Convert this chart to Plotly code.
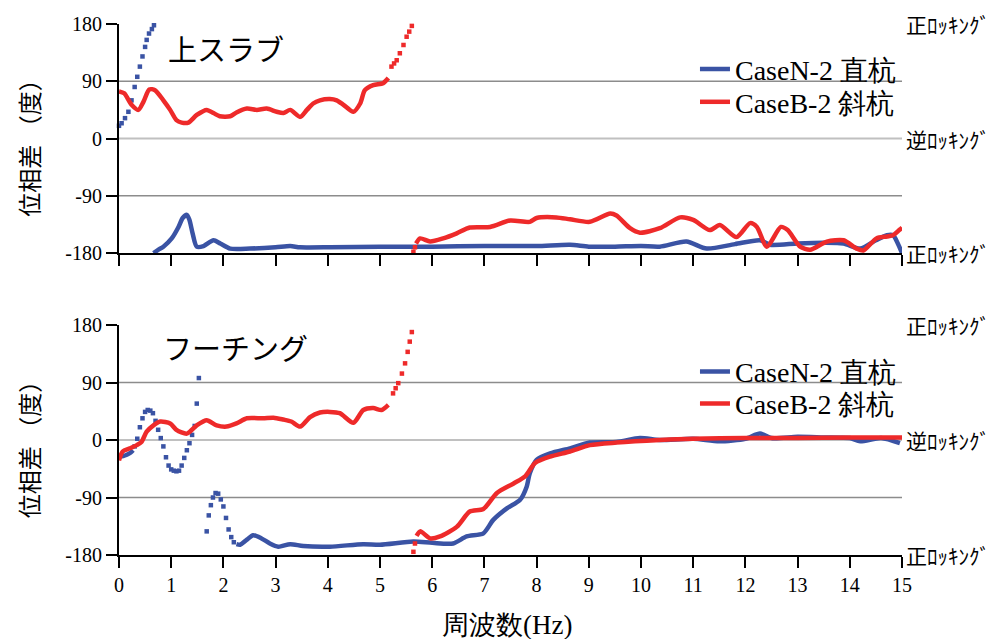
import plotly.graph_objects as go

# ---------------- data ----------------
freq_ticks = list(range(0, 16))
phase_ticks = [-180, -90, 0, 90, 180]
phase_tick_labels = ["-180", "-90", "0", "90", "180"]

# Top panel (上スラブ) - CaseN-2 直杭
top_n_dot_f = [0, 0.05, 0.115, 0.18, 0.24, 0.30, 0.35, 0.40, 0.45, 0.50, 0.53, 0.575, 0.63, 0.67]
top_n_dot_p = [20, 24, 32, 42, 60, 81, 97, 113, 129, 144, 155, 165, 172, 178]
top_n_f = [0.66, 0.75, 0.85, 1.01, 1.14, 1.22, 1.30, 1.35, 1.41, 1.49, 1.62, 1.81, 1.94, 2.13, 2.51, 3.0,
           3.28, 3.47, 4.04, 5.0, 6.0, 7.0, 8.0, 8.64, 9.0, 9.5, 10.0, 10.36, 10.87, 11.26, 11.8, 12.28,
           12.47, 13.0, 13.5, 13.88, 14.2, 14.5, 14.71, 14.83, 14.92, 15.0]
top_n_p = [-180, -175, -170, -157, -139, -125, -120, -128, -149, -170, -169, -160, -165, -173, -173, -171,
           -169, -171, -171, -170, -170, -169, -169, -167, -170, -170, -169, -170, -162, -173, -166, -160,
           -167, -165, -164, -165, -173, -160, -152, -152, -165, -180]

# Top panel - CaseB-2 斜杭
top_b_f1 = [0, 0.1, 0.24, 0.37, 0.47, 0.58, 0.69, 0.85, 0.98, 1.10, 1.20, 1.33, 1.49, 1.68, 1.81, 1.93,
            2.13, 2.25, 2.45, 2.64, 2.83, 3.02, 3.15, 3.28, 3.47, 3.60, 3.72, 3.85, 4.04, 4.17, 4.30,
            4.49, 4.62, 4.71, 4.87, 5.06, 5.16]
top_b_p1 = [74, 71, 53, 45, 58, 77, 76, 60, 45, 29, 25, 25, 37, 45, 40, 35,
            35, 41, 47, 45, 47, 42, 40, 45, 34, 45, 55, 60, 62, 60, 53,
            42, 55, 76, 84, 87, 95]
top_b_dot_f = [5.22, 5.27, 5.32, 5.38, 5.45, 5.51, 5.56, 5.61, 5.64, 5.67]
top_b_dot_p = [113, 118, 123, 134, 147, 160, 168, 177, -178, -171]
top_b_f2 = [5.69, 5.77, 5.96, 6.21, 6.47, 6.72, 7.11, 7.49, 7.87, 8.00, 8.38, 8.64, 9.02, 9.41, 9.53,
            9.79, 9.98, 10.36, 10.75, 11.0, 11.32, 11.51, 11.83, 12.09, 12.22, 12.41, 12.68, 12.81,
            13.05, 13.24, 13.56, 13.88, 14.13, 14.26, 14.51, 14.71, 14.83, 14.96, 15.0]
top_b_p2 = [-165, -157, -162, -157, -149, -140, -139, -129, -131, -125, -124, -127, -131, -118, -121,
            -141, -148, -141, -124, -128, -144, -136, -155, -133, -139, -170, -139, -144,
            -170, -175, -162, -160, -173, -176, -157, -154, -152, -143, -140]

# Bottom panel (フーチング) - CaseN-2 直杭
bot_n_f1 = [0, 0.08, 0.15, 0.22, 0.27]
bot_n_p1 = [-26, -25, -23, -20, -16]
bot_n_dot_f = [0.30, 0.35, 0.40, 0.45, 0.50, 0.55, 0.60, 0.65, 0.70, 0.75, 0.80, 0.85, 0.90, 0.95,
               1.00, 1.05, 1.10, 1.15, 1.20, 1.25, 1.30, 1.35, 1.40, 1.45, 1.49, 1.53,
               1.68, 1.72, 1.76, 1.80, 1.85, 1.90, 1.95, 2.00, 2.05, 2.10, 2.15, 2.20]
bot_n_dot_p = [-10, 2, 20, 34, 44, 47, 46, 42, 30, 16, 3, -10, -27, -40,
               -46, -48, -49, -48, -40, -28, -16, -5, 8, 22, 57, 97,
               -143, -118, -102, -90, -83, -84, -93, -104, -122, -140, -152, -160]
bot_n_f2 = [2.25, 2.32, 2.45, 2.57, 2.73, 2.89, 3.05, 3.28, 3.53, 4.04, 4.68, 5.0, 5.64, 6.0, 6.40,
            6.66, 6.98, 7.17, 7.43, 7.68, 7.81, 7.87, 8.0, 8.26, 8.64, 9.02, 9.53, 9.98, 10.36,
            11.0, 11.5, 12.0, 12.28, 12.5, 13.0, 13.5, 14.0, 14.2, 14.6, 14.96]
bot_n_p2 = [-163, -164, -156, -149, -154, -162, -167, -163, -166, -167, -163, -164, -159, -161, -162,
            -151, -146, -125, -107, -94, -73, -52, -31, -21, -13, -4, -3, 3, 0,
            2, -2, 2, 10, 3, 5, 4, 3, -2, 3, -5]

# Bottom panel - CaseB-2 斜杭
bot_b_f1 = [0, 0.07, 0.21, 0.34, 0.43, 0.53, 0.66, 0.79, 0.98, 1.10, 1.30, 1.49, 1.68, 1.87, 2.06,
            2.25, 2.45, 2.76, 2.96, 3.15, 3.30, 3.47, 3.66, 3.85, 4.04, 4.23, 4.49, 4.68, 4.87,
            5.03, 5.16]
bot_b_p1 = [-32, -18, -13, -8, -3, 13, 23, 29, 26, 16, 10, 23, 31, 23, 21,
            26, 34, 34, 35, 32, 29, 21, 36, 43, 44, 42, 27, 47, 50,
            47, 55]
bot_b_dot_f = [5.25, 5.30, 5.35, 5.42, 5.48, 5.53, 5.57, 5.61, 5.64, 5.67]
bot_b_dot_p = [73, 81, 89, 104, 120, 138, 154, 169, -175, -162]
bot_b_f2 = [5.70, 5.77, 5.96, 6.15, 6.47, 6.72, 6.98, 7.24, 7.56, 7.78, 7.97, 8.26, 8.64, 9.02, 9.53,
            10.36, 11.0, 12.0, 13.0, 14.0, 15.0]
bot_b_p2 = [-150, -143, -154, -151, -136, -112, -108, -83, -68, -57, -36, -26, -18, -8, -4,
            0, 2, 3, 3, 4, 4]

series_names = ["CaseN-2 直杭", "CaseB-2 斜杭"]
panel_titles = ["上スラブ", "フーチング"]
side_labels = ["正ﾛｯｷﾝｸﾞ", "逆ﾛｯｷﾝｸﾞ", "正ﾛｯｷﾝｸﾞ"]

# ---------------- style ----------------
BLUE = "#3a53a4"
RED = "#ee2a2a"
LW = 4.5
MS = 4.5
SERIF = "Liberation Serif"
JP = "Noto Sans CJK JP"

fig = go.Figure()


def add_line(x, y, color, xa, ya, name=None, legend=None, show=False):
    fig.add_trace(go.Scatter(x=x, y=y, mode="lines",
                             line=dict(color=color, width=LW, shape="spline", smoothing=0.7),
                             xaxis=xa, yaxis=ya, name=name, showlegend=show,
                             legend=legend, cliponaxis=False, hoverinfo="skip"))


def add_dots(x, y, color, xa, ya):
    fig.add_trace(go.Scatter(x=x, y=y, mode="markers",
                             marker=dict(color=color, size=MS, symbol="square"),
                             xaxis=xa, yaxis=ya, showlegend=False, cliponaxis=False,
                             hoverinfo="skip"))


# top panel
add_line(top_n_f, top_n_p, BLUE, "x", "y", series_names[0], "legend", True)
add_dots(top_n_dot_f, top_n_dot_p, BLUE, "x", "y")
add_line(top_b_f1, top_b_p1, RED, "x", "y", series_names[1], "legend3", True)
add_dots(top_b_dot_f, top_b_dot_p, RED, "x", "y")
add_line(top_b_f2, top_b_p2, RED, "x", "y")

# bottom panel
add_line(bot_n_f1, bot_n_p1, BLUE, "x2", "y2", series_names[0], "legend2", True)
add_dots(bot_n_dot_f, bot_n_dot_p, BLUE, "x2", "y2")
add_line(bot_n_f2, bot_n_p2, BLUE, "x2", "y2")
add_line(bot_b_f1, bot_b_p1, RED, "x2", "y2", series_names[1], "legend4", True)
add_dots(bot_b_dot_f, bot_b_dot_p, RED, "x2", "y2")
add_line(bot_b_f2, bot_b_p2, RED, "x2", "y2")

# grid lines (drawn below data)
for xr, yr in [("x", "y"), ("x2", "y2")]:
    for v, col, w in [(90, "#8c8c8c", 1.3), (0, "#c0c0c0", 2), (-90, "#8c8c8c", 1.3)]:
        fig.add_shape(type="line", xref=xr, yref=yr, x0=0, x1=15, y0=v, y1=v,
                      line=dict(color=col, width=w), layer="below")

axis_common = dict(showline=True, linecolor="black", linewidth=2, ticks="outside",
                   tickcolor="black", tickwidth=2, showgrid=False, zeroline=False,
                   automargin=False,
                   tickfont=dict(family=SERIF, size=20, color="black"))

top_dom = [0.5687, 1.0]
bot_dom = [0.0, 0.4331]


def leg(y):
    return dict(x=0.7356, y=y, xanchor="left", yanchor="top", bgcolor="rgba(0,0,0,0)",
                font=dict(family=SERIF, size=28, color="black"), tracegroupgap=0,
                itemwidth=30)


fig.update_layout(
    width=987, height=639,
    margin=dict(l=111, r=93, t=16, b=92),
    paper_bgcolor="white", plot_bgcolor="white",
    xaxis=dict(domain=[0, 1], anchor="y", range=[0, 15], tickvals=freq_ticks,
               showticklabels=False, ticklen=11, **axis_common),
    yaxis=dict(domain=top_dom, anchor="x", range=[-180, 180], tickvals=phase_ticks,
               ticktext=phase_tick_labels, ticklen=11, **axis_common),
    xaxis2=dict(domain=[0, 1], anchor="y2", range=[0, 15], tickvals=freq_ticks,
                ticklen=11, **axis_common),
    yaxis2=dict(domain=bot_dom, anchor="x2", range=[-180, 180], tickvals=phase_ticks,
                ticktext=phase_tick_labels, ticklen=11, **axis_common),
    legend=leg(0.962),
    legend3=leg(0.900),
    legend2=leg(0.392),
    legend4=leg(0.332),
    showlegend=True,
)

ann = []
# panel titles
ann.append(dict(text=panel_titles[0], xref="x", yref="y", x=0.9, y=143, xanchor="left",
                yanchor="middle", showarrow=False, font=dict(family=JP, size=29, color="black")))
ann.append(dict(text=panel_titles[1], xref="x2", yref="y2", x=0.8, y=145, xanchor="left",
                yanchor="middle", showarrow=False, font=dict(family=JP, size=29, color="black")))
# y-axis titles
for yr in ["y domain", "y2 domain"]:
    ann.append(dict(text="位相差 （度）", xref="paper", yref=yr, x=-0.116, y=0.5,
                    xanchor="center", yanchor="middle", textangle=-90, showarrow=False,
                    yshift=-4,
                    font=dict(family=JP, size=24, color="black")))
# x-axis title
ann.append(dict(text="周波数(Hz)", xref="paper", yref="paper", x=0.496, y=-0.131,
                xanchor="center", yanchor="middle", showarrow=False,
                font=dict(family=SERIF, size=27, color="black")))
# side labels
for yr in ["y", "y2"]:
    for lab, v in zip(side_labels, [180, 0, -180]):
        ann.append(dict(text=lab, xref="paper", yref=yr, x=1.002, y=v, xanchor="left",
                        yanchor="middle", showarrow=False,
                        font=dict(family=JP, size=21, color="black")))
fig.update_layout(annotations=ann)

fig.write_html("out.html")
